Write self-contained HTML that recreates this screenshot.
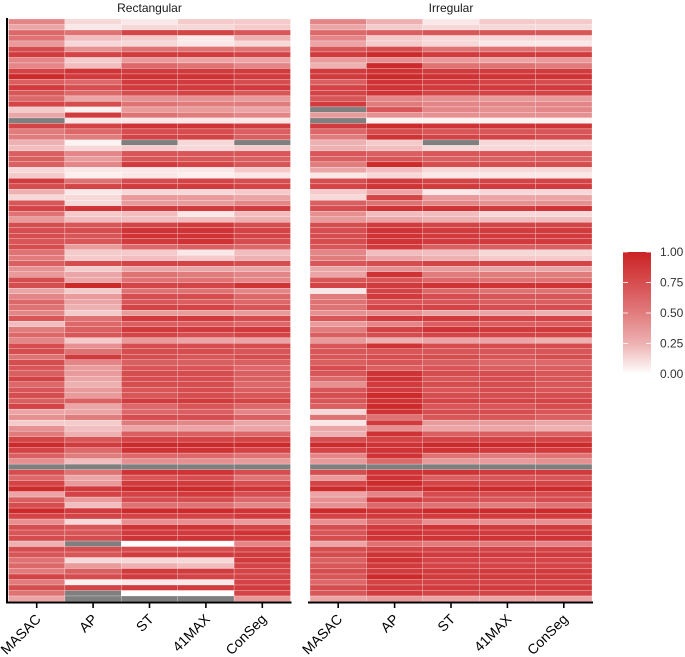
<!DOCTYPE html>
<html><head><meta charset="utf-8"><style>
body{margin:0;background:#fff;}
svg{display:block;font-family:"Liberation Sans",sans-serif;}
</style></head><body>
<svg id="chart" width="685" height="657"></svg>
<script>
const methods = ["MASAC","AP","ST","41MAX","ConSeg"];
const panels = ["Rectangular","Irregular"];
const legendTicks = [0,0.25,0.5,0.75,1];
const legendLabels = ["0.00","0.25","0.50","0.75","1.00"];
const N = null;
const rectValues = [
[.45,.1,.05,.15,.15],[.3,.05,.1,.1,.15],[.6,.55,.8,.8,.7],[.55,.2,.15,.05,.25],[.35,.1,.1,.05,.1],
[.75,.4,.55,.55,.55],[.85,.8,.85,.85,.8],[.45,.15,.35,.3,.3],[.45,.2,.6,.55,.45],[.8,.9,.85,.85,.85],
[.95,.85,.9,.9,.85],[.65,.6,.85,.85,.75],[.85,.75,.85,.85,.85],[.7,.6,.75,.8,.7],[.6,.3,.4,.4,.35],
[.8,.75,.55,.5,.5],[.15,.03,.35,.35,.3],[.3,.85,.55,.5,.45],[N,.05,.05,.05,.05],[.8,.8,.9,.9,.85],
[.5,.6,.75,.75,.65],[.5,.5,.8,.8,.65],[.25,.02,N,.1,N],[.2,.1,.15,.1,.15],[.65,.45,.7,.7,.7],
[.65,.35,.7,.7,.65],[.65,.45,.85,.8,.7],[.1,.05,.05,.05,.15],[.15,.03,.05,.03,.05],[.85,.55,.75,.8,.75],
[.75,.8,.85,.85,.8],[.25,.05,.1,.1,.15],[.1,.1,.35,.35,.3],[.7,.1,.35,.35,.45],[.8,.9,.85,.85,.85],
[.55,.15,.2,.05,.2],[.35,.2,.2,.2,.25],[.75,.7,.8,.85,.75],[.75,.75,.9,.9,.8],[.75,.7,.9,.9,.8],
[.7,.7,.85,.9,.75],[.75,.35,.6,.65,.6],[.55,.15,.15,.05,.2],[.5,.15,.2,.15,.25],[.65,.75,.8,.8,.75],
[.4,.15,.3,.3,.3],[.35,.3,.55,.5,.45],[.75,.3,.55,.55,.45],[.75,.95,.8,.8,.9],[.3,.15,.55,.55,.45],
[.45,.35,.75,.75,.6],[.6,.3,.7,.65,.6],[.55,.25,.8,.8,.7],[.45,.15,.35,.35,.35],[.7,.55,.85,.85,.75],
[.2,.6,.65,.65,.6],[.5,.65,.85,.85,.85],[.6,.7,.8,.75,.8],[.45,.15,.35,.3,.3],[.75,.4,.75,.75,.75],
[.75,.55,.75,.75,.7],[.55,.85,.75,.7,.75],[.75,.45,.65,.65,.65],[.7,.35,.7,.7,.6],[.65,.35,.75,.75,.65],
[.8,.3,.75,.75,.65],[.6,.25,.75,.75,.6],[.7,.35,.7,.75,.65],[.75,.35,.7,.75,.7],[.65,.65,.85,.85,.8],
[.8,.3,.6,.7,.6],[.3,.3,.6,.65,.45],[.4,.5,.75,.75,.65],[.15,.15,.5,.45,.3],[.4,.2,.3,.3,.3],
[.5,.25,.65,.65,.6],[.8,.7,.8,.8,.8],[.95,.85,.95,.95,.95],[.8,.6,.9,.9,.8],[.65,.5,.6,.6,.55],
[.4,.2,.4,.4,.35],[N,N,N,N,N],[.75,.55,.9,.9,.75],[.6,.3,.7,.75,.55],[.8,.35,.85,.85,.75],
[.95,.85,.95,.95,.9],[.3,.8,.8,.85,.75],[.65,.35,.75,.75,.6],[.75,.2,.55,.55,.45],[.95,.85,.95,.95,.9],
[.8,.8,.8,.8,.85],[.4,.1,.4,.4,.35],[.75,.7,.9,.9,.8],[.7,.7,.85,.85,.9],[.75,.75,.9,.9,.85],
[.25,N,0,0,.45],[.75,.75,.75,.75,.8],[.7,.7,.85,.85,.85],[.55,.1,.1,.1,.85],[.6,.35,.25,.2,.8],
[.5,.65,.85,.85,.8],[.8,.75,.85,.8,.8],[.5,.03,.05,.05,.8],[.75,.8,.85,.85,.85],[.55,N,0,0,.8],
[.3,N,N,N,.35]
];
const irrValues = [
[.45,.25,.05,.15,.15],[.3,.15,.1,.1,.1],[.6,.65,.7,.7,.7],[.45,.15,.1,.1,.1],[.3,.15,.1,.05,.05],
[.7,.75,.55,.55,.55],[.85,.95,.85,.85,.85],[.35,.4,.35,.3,.35],[.25,.95,.55,.55,.5],[.85,.9,.85,.85,.85],
[.85,.95,.9,.9,.9],[.65,.9,.85,.8,.75],[.8,.9,.85,.85,.85],[.8,.9,.8,.8,.8],[.7,.45,.4,.35,.35],
[.85,.5,.45,.45,.45],[N,.7,.45,.4,.45],[.35,.4,.4,.4,.4],[N,.02,.02,.02,.02],[.85,.95,.9,.9,.9],
[.6,.75,.7,.7,.7],[.5,.9,.8,.8,.75],[.25,.15,N,.1,.1],[.25,.2,.1,.1,.1],[.7,.65,.7,.7,.7],
[.65,.7,.65,.65,.65],[.5,.95,.75,.75,.75],[.3,.2,.1,.1,.1],[.05,.1,.05,.05,.05],[.75,.85,.8,.8,.8],
[.8,.9,.85,.85,.85],[.15,.3,.05,.1,.1],[.1,.8,.35,.3,.3],[.65,.55,.45,.4,.4],[.75,.9,.9,.85,.9],
[.4,.2,.2,.1,.1],[.35,.3,.25,.2,.2],[.75,.85,.8,.8,.8],[.75,.9,.85,.85,.85],[.75,.9,.85,.85,.85],
[.75,.9,.85,.85,.85],[.7,.85,.65,.65,.65],[.45,.2,.2,.1,.1],[.5,.3,.25,.15,.15],[.7,.75,.8,.8,.8],
[.3,.4,.35,.3,.3],[.3,.9,.5,.5,.5],[.7,.7,.6,.55,.55],[.8,.85,.9,.9,.9],[.05,.8,.6,.55,.55],
[.5,.85,.75,.7,.7],[.55,.7,.7,.65,.65],[.55,.8,.8,.75,.75],[.4,.4,.3,.3,.25],[.7,.85,.85,.8,.8],
[.35,.45,.65,.65,.65],[.5,.8,.9,.85,.85],[.65,.75,.8,.8,.8],[.35,.25,.3,.3,.25],[.7,.9,.75,.75,.75],
[.7,.7,.7,.7,.7],[.7,.75,.75,.7,.75],[.65,.7,.65,.6,.6],[.75,.65,.7,.65,.65],[.7,.9,.75,.75,.7],
[.6,.9,.7,.75,.7],[.4,.85,.75,.75,.7],[.7,.85,.7,.75,.7],[.75,.95,.75,.75,.75],[.7,.9,.8,.8,.8],
[.65,.95,.7,.7,.75],[.1,.9,.75,.75,.7],[.55,.55,.7,.7,.65],[.05,.85,.35,.35,.3],[.3,.4,.3,.3,.25],
[.25,.9,.65,.65,.65],[.75,.8,.8,.8,.8],[.95,.9,.95,.95,.95],[.8,.9,.9,.85,.85],[.45,.9,.55,.5,.55],
[.35,.6,.35,.35,.4],[N,N,N,N,N],[.75,.9,.9,.85,.85],[.35,.9,.65,.7,.7],[.8,.95,.8,.8,.8],
[.95,.9,.95,.95,.95],[.3,.45,.75,.75,.75],[.4,.85,.75,.7,.75],[.4,.6,.55,.5,.55],[.95,.9,.95,.95,.95],
[.8,.85,.85,.85,.85],[.4,.6,.4,.4,.4],[.75,.85,.9,.85,.85],[.7,.9,.85,.85,.85],[.75,.9,.9,.9,.9],
[.3,.55,.5,.5,.45],[.75,.8,.8,.8,.8],[.75,.9,.85,.85,.85],[.65,.9,.8,.8,.8],[.7,.85,.8,.8,.8],
[.75,.85,.85,.85,.85],[.7,.95,.85,.85,.85],[.6,.8,.8,.8,.8],[.75,.85,.85,.85,.85],[.7,.85,.8,.8,.8],
[.3,.35,.3,.3,.3]
];
const panelData = [rectValues, irrValues];

const NS = "http://www.w3.org/2000/svg";
const svg = document.getElementById("chart");
function mk(tag, attrs, parent){const e=document.createElementNS(NS,tag);for(const k in attrs)e.setAttribute(k,attrs[k]);(parent||svg).appendChild(e);return e;}
const panelX = [8.5, 310];
const panelW = 282;
const yTop = 19, yBottom = 601.5;
const colW = panelW / methods.length;
function xScale(p, j){return panelX[p] + j*colW;}
function yScale(i, n){return yTop + i*(yBottom-yTop)/n;}
function color(v){
  if (v===null) return "#7f7f7f";
  const hi=[203,34,36];
  const rv = Math.pow(v,0.8), gv = Math.pow(v,0.75);
  const r=Math.round(255+(hi[0]-255)*rv), g=Math.round(255+(hi[1]-255)*gv), b=Math.round(255+(hi[2]-255)*gv);
  return "rgb("+r+","+g+","+b+")";
}
panelData.forEach((data,p)=>{
  const g = mk("g",{});
  
  
  const n = data.length, rh=(yBottom-yTop)/n;
  data.forEach((row,i)=>{
    row.forEach((v,j)=>{
      const c = mk("rect",{x:xScale(p,j),y:yScale(i,n),width:colW,height:rh,fill:color(v),stroke:"rgba(255,255,255,0.6)","stroke-width":0.4},g);
      
      
    });
  });
  const t = mk("text",{x:panelX[p]+panelW/2,y:12,"text-anchor":"middle","font-size":12,fill:"#1a1a1a"});
  t.textContent = panels[p];
  
  
  const ax = mk("line",{x1:panelX[p]-2,x2:panelX[p]+panelW+1,y1:602.5,y2:602.5,stroke:"#000","stroke-width":2});
  
  
  methods.forEach((m,j)=>{
    const cx = xScale(p,j)+colW/2;
    const tk = mk("line",{x1:cx,x2:cx,y1:602,y2:608,stroke:"#000","stroke-width":1.6});
    
    
    const lx = cx+5, ly = 620;
    const lb = mk("text",{x:lx,y:ly,"text-anchor":"end","font-size":14,fill:"#000",transform:"rotate(-45 "+lx+" "+ly+")"});
    lb.textContent = m;
    
    
  });
});
const yax = mk("line",{x1:7,x2:7,y1:18,y2:603.5,stroke:"#000","stroke-width":2});


const defs = mk("defs",{});
const grad = mk("linearGradient",{id:"lg",x1:0,y1:1,x2:0,y2:0},defs);
[0,0.25,0.5,0.75,1].forEach(o=>mk("stop",{offset:String(o),"stop-color":color(o)},grad));
const lgY0=252, lgY1=374, lgX=623, lgW=28;
const bar = mk("rect",{x:lgX,y:lgY0,width:lgW,height:lgY1-lgY0,fill:"url(#lg)"});


legendTicks.forEach((v,k)=>{
  const y = lgY1 - v*(lgY1-lgY0);
  mk("line",{x1:lgX,x2:lgX+5,y1:y,y2:y,stroke:"#fff","stroke-width":0.8});
  mk("line",{x1:lgX+lgW-5,x2:lgX+lgW,y1:y,y2:y,stroke:"#fff","stroke-width":0.8});
  const t = mk("text",{x:660,y:y+4,"font-size":12,fill:"#333"});
  t.textContent = legendLabels[k];
  
  
});
</script>
</body></html>
